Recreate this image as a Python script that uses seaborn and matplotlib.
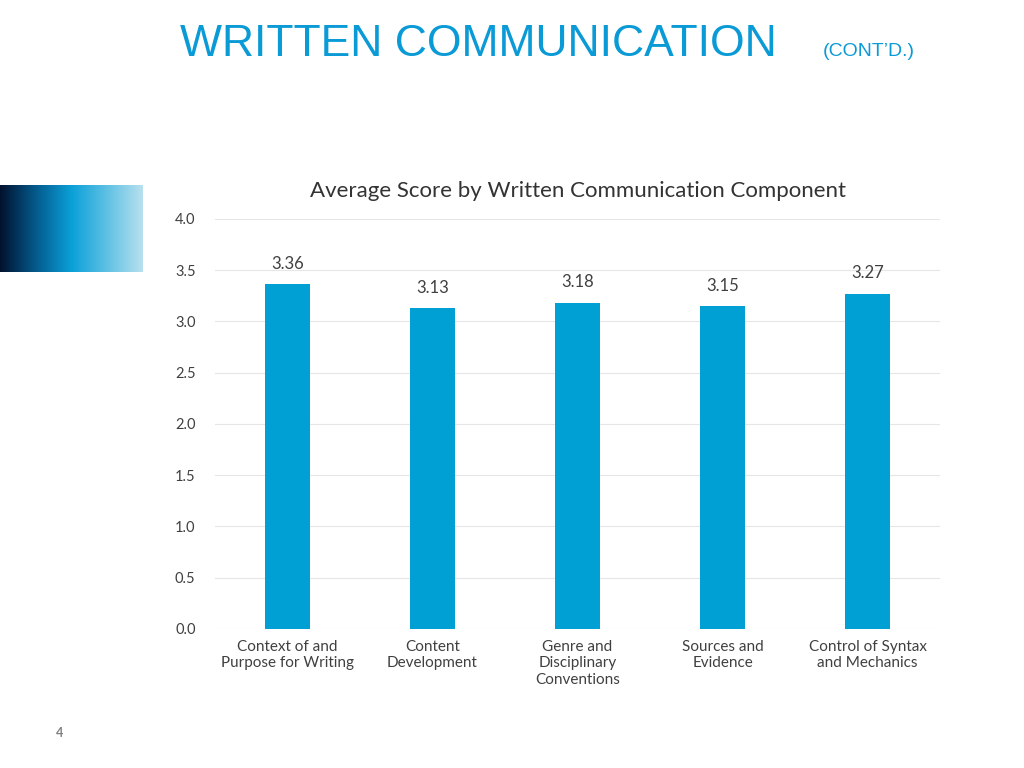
import matplotlib
matplotlib.use("Agg")
import matplotlib.pyplot as plt
import seaborn as sns
import numpy as np
import pandas as pd

categories = ["Context of and\nPurpose for Writing", "Content\nDevelopment",
              "Genre and\nDisciplinary\nConventions", "Sources and\nEvidence",
              "Control of Syntax\nand Mechanics"]
scores = [3.36, 3.13, 3.18, 3.15, 3.27]
yticks = [0.0, 0.5, 1.0, 1.5, 2.0, 2.5, 3.0, 3.5, 4.0]

plt.rcParams["font.family"] = "Lato"
fig = plt.figure(figsize=(10.24, 7.68), dpi=100)
ax = fig.add_axes([0.21, 0.181, 0.708, 0.534])
df = pd.DataFrame({"cat": categories, "score": scores})
sns.barplot(data=df, x="cat", y="score", color="#009FD4", saturation=1,
            width=0.31, ax=ax)
ax.set_xlim(-0.5, 4.5)
ax.set_ylim(0, 4.0)
ax.set_yticks(yticks)
ax.set_yticklabels([f"{t:.1f}" for t in yticks], fontsize=10.5, color="#404040")
ax.tick_params(axis="x", labelsize=11, colors="#404040", length=0, pad=8)
ax.tick_params(axis="y", length=0, pad=14)
ax.grid(axis="y", color="#E6E6E6", linewidth=0.8)
ax.set_axisbelow(True)
for s in ax.spines.values():
    s.set_visible(False)
ax.set_xlabel("")
ax.set_ylabel("")
for i, v in enumerate(scores):
    ax.annotate(f"{v:.2f}", (i, v), xytext=(0, 9), textcoords="offset points",
                ha="center", va="bottom", fontsize=12, color="#404040")
ax.set_title("Average Score by Written Communication Component", fontsize=16,
             color="#333333", pad=16)

fig.text(180/1024, 1-45/768, "WRITTEN COMMUNICATION", fontsize=32, color="#0A9AD6",
         family="Liberation Sans", va="center")
fig.text(823/1024, 1-52/768, "(CONT\u2019D.)", fontsize=14, color="#0A9AD6",
         family="Liberation Sans", va="center")
fig.text(60/1024, 1-733/768, "4", fontsize=9, color="#808080", weight="bold",
         ha="center", va="center")

gax = fig.add_axes([0, 1-272/768, 143/1024, 87/768])
from matplotlib.colors import LinearSegmentedColormap
cm = LinearSegmentedColormap.from_list("g", ["#02122E", "#045A8D", "#0AA0D8", "#5FC1E4", "#B8E0EE"])
gax.imshow(np.linspace(0, 1, 256)[None, :], aspect="auto", cmap=cm)
gax.axis("off")

fig.savefig("out.png", dpi=100)
